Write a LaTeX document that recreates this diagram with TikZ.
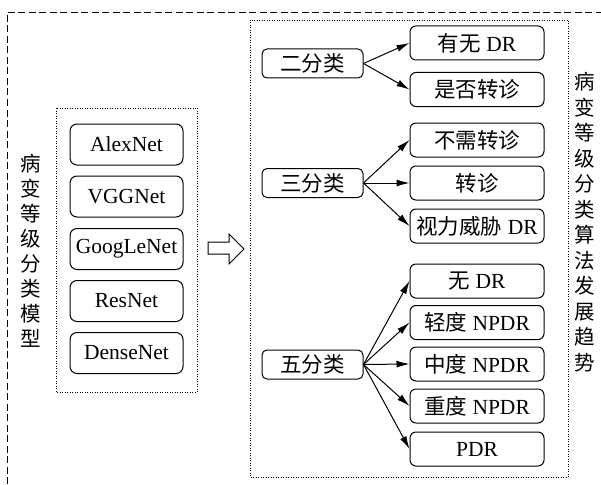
\documentclass[tikz,border=0pt]{standalone}
\usepackage{fontspec}
\setmainfont{Liberation Serif}
\newfontfamily\cjk{Noto Sans CJK SC}
\usetikzlibrary{arrows.meta}
\newcommand{\zh}[1]{{\cjk #1}}
\begin{document}
\begin{tikzpicture}[x=1pt,y=-1pt,
  every node/.style={font=\fontsize{21.5}{25}\selectfont, inner sep=0pt},
  netbox/.style={draw, line width=1pt, rounded corners=7pt, minimum width=113pt, minimum height=41pt},
  catbox/.style={draw, line width=1pt, rounded corners=5pt, minimum width=101pt, minimum height=29pt},
  leafbox/.style={draw, line width=1pt, rounded corners=6pt, minimum width=134pt, minimum height=34pt},
  dotbox/.style={draw, line width=0.9pt, dash pattern=on 1pt off 1.5pt},
  outline/.style={draw, line width=0.9pt, dash pattern=on 7pt off 3.5pt},
  conn/.style={line width=1pt, -{Latex[length=13pt,width=7pt]}},
  vtext/.style={align=center, font=\fontsize{20.5}{25.5}\selectfont\cjk}
]
\useasboundingbox (0,0) rectangle (601,484);
% outer dashed frame (only top and left visible)
\coordinate (o1) at (7,484);
\coordinate (o2) at (7,12);
\coordinate (o3) at (601,12);
\draw[outline] (o1) -- (o2) -- (o3);
% dotted group boxes
\draw[dotbox] (56,108) rectangle (197,392);
\draw[dotbox] (250,20) rectangle (568,477);
% left vertical text
\node[vtext, font=\fontsize{20.5}{25}\selectfont\cjk] (lt) at (31,250.5) {病\\变\\等\\级\\分\\类\\模\\型};
% network boxes
\node[netbox] (alex) at (126.5,144.5) {AlexNet};
\node[netbox] (vgg) at (126.5,196.5) {VGGNet};
\node[netbox] (goog) at (126.5,249) {GoogLeNet};
\node[netbox] (res) at (126.5,301) {ResNet};
\node[netbox] (dense) at (126.5,353) {DenseNet};
% hollow arrow
\draw[line width=1pt, fill=white] (208,242) -- (229,242) -- (229,234) -- (244,249) -- (229,264) -- (229,254) -- (208,254) -- cycle;
% category boxes
\node[catbox] (c2) at (312.5,63.5) {\zh{二分类}};
\node[catbox] (c3) at (312.5,183) {\zh{三分类}};
\node[catbox] (c5) at (312.5,364.5) {\zh{五分类}};
% leaf boxes
\node[leafbox] (l1) at (477,43) {\zh{有无} DR};
\node[leafbox] (l2) at (477,89.5) {\zh{是否转诊}};
\node[leafbox] (l3) at (477,140) {\zh{不需转诊}};
\node[leafbox] (l4) at (477,183) {\zh{转诊}};
\node[leafbox] (l5) at (477,226) {\zh{视力威胁} DR};
\node[leafbox] (l6) at (477,281) {\zh{无} DR};
\node[leafbox] (l7) at (477,322.5) {\zh{轻度} NPDR};
\node[leafbox] (l8) at (477,364) {\zh{中度} NPDR};
\node[leafbox] (l9) at (477,406) {\zh{重度} NPDR};
\node[leafbox] (l10) at (477,449) {PDR};
% connectors
\foreach \t in {l1,l2} \draw[conn] (c2.east) -- (\t.west);
\foreach \t in {l3,l4,l5} \draw[conn] (c3.east) -- (\t.west);
\foreach \t in {l6,l7,l8,l9,l10} \draw[conn] (c5.east) -- (\t.west);
% right vertical text
\node[vtext] (rt) at (585,222) {病\\变\\等\\级\\分\\类\\算\\法\\发\\展\\趋\\势};
\end{tikzpicture}
\end{document}
